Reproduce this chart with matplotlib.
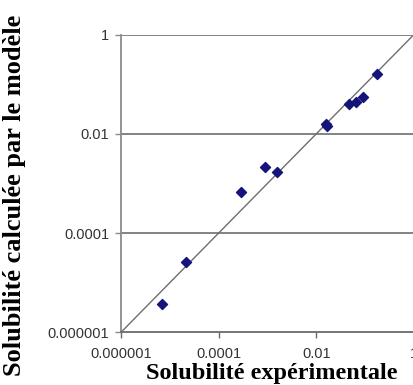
import matplotlib.pyplot as plt
import numpy as np

# Data
sol_exp = [6.9e-6, 2.1e-5, 2.8e-4, 8.7e-4, 1.6e-3, 0.0156, 0.0162, 0.046, 0.066, 0.091, 0.176]
sol_calc = [3.7e-6, 2.6e-5, 6.8e-4, 2.15e-3, 1.7e-3, 0.0157, 0.0145, 0.0395, 0.043, 0.0547, 0.161]
ticks = [1e-6, 1e-4, 1e-2, 1]
tick_labels = ['0.000001', '0.0001', '0.01', '1']
diag = [1e-6, 1]

fig = plt.figure(figsize=(4.14, 3.85), dpi=100)
ax = fig.add_axes([121 / 414, 1 - 332.3 / 385, 1 - 121 / 414, (332.3 - 34.5) / 385])

ax.set_xscale('log')
ax.set_yscale('log')
ax.set_xlim(1e-6, 1)
ax.set_ylim(1e-6, 1)

# horizontal gridlines
for t in ticks[1:]:
    ax.axhline(t, color='#7a7a7a', lw=1.3, zorder=1)

# y = x line
ax.plot(diag, diag, color='#6e6e6e', lw=1.0, zorder=2)

ax.scatter(sol_exp, sol_calc, marker='D', s=26, color='#14147a', zorder=3)

ax.set_xticks(ticks)
ax.set_xticklabels(tick_labels)
ax.set_yticks(ticks)
ax.set_yticklabels(tick_labels)
ax.minorticks_off()

for s in ['top', 'right']:
    ax.spines[s].set_visible(False)
ax.spines['left'].set_color('#8a8a8a')
ax.spines['left'].set_linewidth(1.3)
ax.spines['bottom'].set_color('#6a6a6a')
ax.spines['bottom'].set_linewidth(1.3)

ax.tick_params(axis='x', length=4, width=1, color='#6a6a6a', pad=6.5,
               labelsize=10.5, labelcolor='#333333')
ax.tick_params(axis='y', length=4, width=1, color='#8a8a8a', pad=4.5,
               labelsize=10.5, labelcolor='#333333')
for lab in ax.get_xticklabels() + ax.get_yticklabels():
    lab.set_family('Liberation Sans')

fig.text(272 / 414, 1 - 379 / 385, 'Solubilité expérimentale',
         family='Liberation Serif', weight='bold', fontsize=17.5,
         ha='center', va='baseline')
fig.text(15 / 414, 1 - 195 / 385, 'Solubilité calculée par le modèle',
         family='Liberation Serif', weight='bold', fontsize=19,
         ha='center', va='center', rotation=90)

fig.savefig('out.png', dpi=100)
